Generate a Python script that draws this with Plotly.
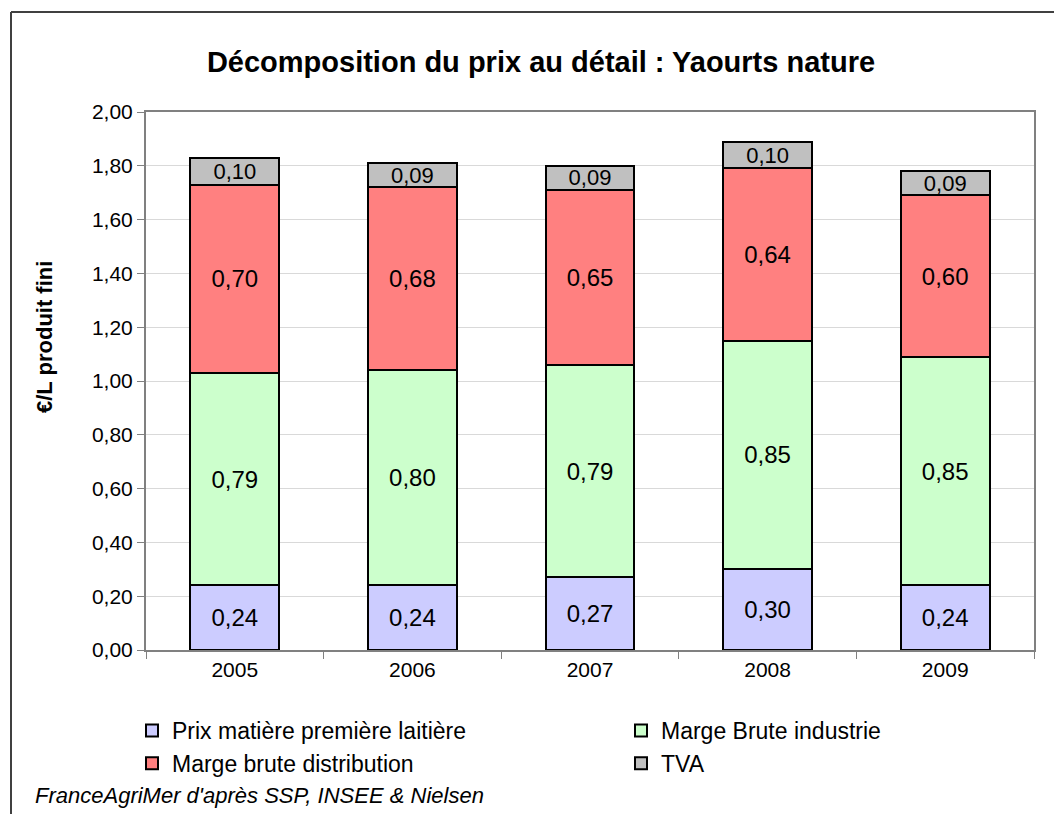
import plotly.graph_objects as go

# --- données ---
annees = ["2005", "2006", "2007", "2008", "2009"]
prix_matiere = [0.24, 0.24, 0.27, 0.30, 0.24]
marge_industrie = [0.79, 0.80, 0.79, 0.85, 0.85]
marge_distribution = [0.70, 0.68, 0.65, 0.64, 0.60]
tva = [0.10, 0.09, 0.09, 0.10, 0.09]

series = [
    ("Prix matière première laitière", prix_matiere, "#CCCCFF", 24),
    ("Marge Brute industrie", marge_industrie, "#CCFFCC", 24),
    ("Marge brute distribution", marge_distribution, "#FF8080", 24),
    ("TVA", tva, "#C0C0C0", 22),
]

FONT = "Liberation Sans"

# la page ajoute une marge de 8 px : on travaille en pixels écran, décalés de 8
OFF = 8
W, H = 1062 - OFF, 814 - OFF
L, R, T, B = 146 - OFF, 28, 112 - OFF, 164
pw, ph = W - L - R, H - T - B


def px(x):
    return (x - OFF - L) / pw


def py(y):
    return (H - B - (y - OFF)) / ph


def fmt(v):
    return f"{v:.2f}".replace(".", ",")


fig = go.Figure()
for nom, vals, couleur, taille in series:
    fig.add_trace(go.Bar(
        x=annees, y=vals, name=nom,
        marker=dict(color=couleur, line=dict(color="black", width=2)),
        text=[fmt(v) for v in vals], textposition="inside",
        insidetextanchor="middle", constraintext="none",
        textfont=dict(family=FONT, size=taille, color="black"),
    ))

fig.update_layout(
    width=W, height=H,
    barmode="stack", bargap=0.5,
    separators=", ",
    paper_bgcolor="white", plot_bgcolor="white",
    margin=dict(l=L, r=R, t=T, b=B, autoexpand=False),
    font=dict(family=FONT, color="black"),
    title=dict(
        text="<b>Décomposition du prix au détail : Yaourts nature</b>",
        x=(541 - OFF) / W, xanchor="center", y=1 - (62 - OFF) / H, yanchor="middle",
        font=dict(size=29, family=FONT),
    ),
    legend=dict(
        orientation="h", traceorder="normal",
        x=px(132), xanchor="left", y=py(709), yanchor="top",
        entrywidth=444, entrywidthmode="pixels",
        font=dict(size=23, family=FONT),
        itemwidth=30, tracegroupgap=0,
    ),
    showlegend=True,
)

fig.update_yaxes(
    range=[0, 2], dtick=0.2, tickformat=".2f",
    showgrid=True, gridcolor="#D9D9D9", gridwidth=1,
    showline=True, linecolor="#808080", linewidth=2, mirror=True,
    ticks="outside", ticklen=7, tickcolor="#808080",
    tickfont=dict(size=21, family=FONT),
    zeroline=False,
)
fig.update_xaxes(
    type="category",
    showline=True, linecolor="#808080", linewidth=2, mirror=True,
    ticks="outside", ticklen=7, tickcolor="#808080", tickson="boundaries",
    tickfont=dict(size=21, family=FONT),
)

# titre de l'axe Y
fig.add_annotation(
    text="<b>€/L produit fini</b>", textangle=-90,
    xref="paper", yref="paper", x=px(44), y=py(337),
    xanchor="center", yanchor="middle", showarrow=False,
    font=dict(size=22, family=FONT),
)

# source
fig.add_annotation(
    text="<i>FranceAgriMer d'après SSP, INSEE & Nielsen</i>",
    xref="paper", yref="paper", x=px(33), y=py(795),
    xanchor="left", yanchor="middle", showarrow=False,
    font=dict(size=22, family=FONT),
)

# cadre extérieur (coupé à droite et en bas)
fig.add_shape(type="line", xref="paper", yref="paper",
              x0=px(11), y0=py(12), x1=px(1070), y1=py(12),
              line=dict(color="#404040", width=2))
fig.add_shape(type="line", xref="paper", yref="paper",
              x0=px(11), y0=py(12), x1=px(11), y1=py(820),
              line=dict(color="#404040", width=2))

fig.write_html("out.html")
